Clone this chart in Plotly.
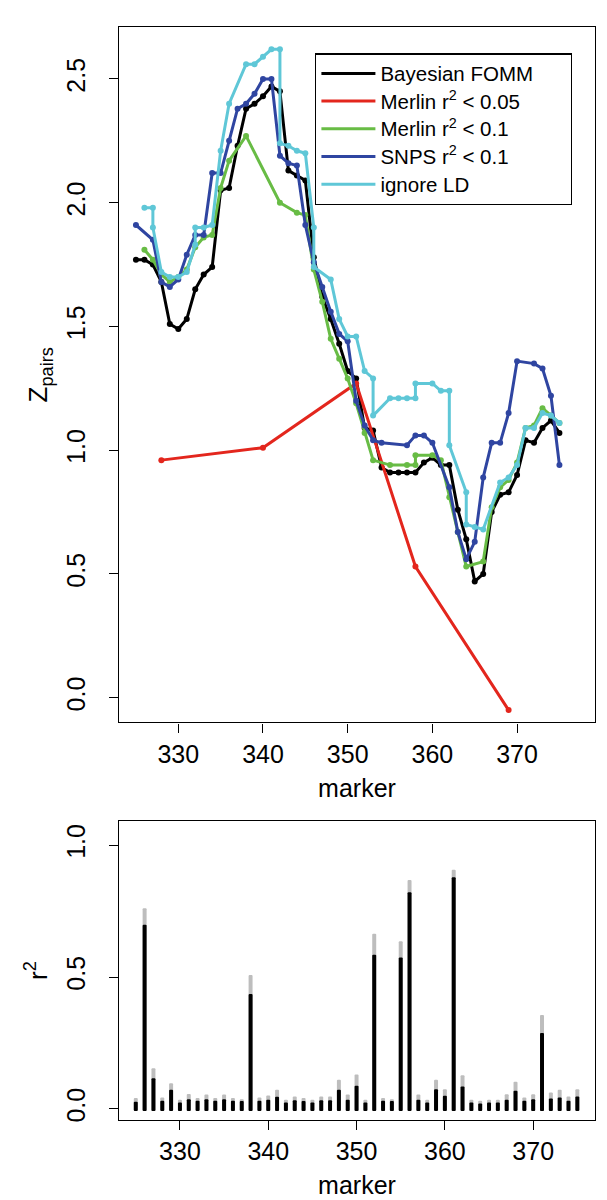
import plotly.graph_objects as go

# ---- data ----
markers = list(range(325, 376))

bayes_fomm = [1.77, 1.77, 1.75, 1.68, 1.51, 1.49, 1.53, 1.65, 1.71, 1.74,
              2.05, 2.06, 2.23, 2.38, 2.40, 2.43, 2.47, 2.45, 2.13, 2.11,
              2.09, 1.78, 1.62, 1.53, 1.43, 1.32, 1.29, 1.09, 1.08, 0.93,
              0.91, 0.91, 0.91, 0.91, 0.95, 0.97, 0.94, 0.94, 0.76, 0.64,
              0.47, 0.50, 0.75, 0.82, 0.83, 0.90, 1.04, 1.03, 1.09, 1.12, 1.07]

merlin05_x = [328, 340, 351, 358, 369]
merlin05_z = [0.96, 1.01, 1.27, 0.53, -0.05]

merlin10_x = [326, 327, 328, 329, 330, 331, 332, 333, 334, 335, 336, 338, 342,
              344, 345, 346, 347, 348, 349, 350, 351, 352, 353, 355, 357, 358,
              358, 360, 361, 362, 363, 364, 366, 367, 368, 369, 370, 371, 372,
              373, 374, 375]
merlin10_z = [1.81, 1.77, 1.71, 1.68, 1.70, 1.73, 1.82, 1.86, 1.87, 2.06, 2.17,
              2.27, 2.00, 1.96, 1.95, 1.73, 1.60, 1.45, 1.37, 1.29, 1.19, 1.07,
              0.96, 0.94, 0.94, 0.94, 0.98, 0.98, 0.96, 0.81, 0.67, 0.53, 0.55,
              0.77, 0.85, 0.88, 0.95, 1.09, 1.10, 1.17, 1.14, 1.11]

snps_x = [325, 327, 328, 329, 330, 331, 332, 333, 334, 335, 336, 337, 338, 339,
          340, 341, 342, 343, 344, 345, 346, 347, 348, 349, 350, 351, 352, 353,
          354, 357, 358, 359, 360, 362, 363, 364, 365, 366, 367, 368, 369, 370,
          372, 373, 374, 375]
snps_z = [1.91, 1.85, 1.68, 1.66, 1.69, 1.79, 1.87, 1.87, 2.12, 2.12, 2.25,
          2.38, 2.40, 2.44, 2.50, 2.50, 2.19, 2.16, 2.15, 1.91, 1.76, 1.66,
          1.56, 1.47, 1.44, 1.20, 1.10, 1.04, 1.03, 1.02, 1.06, 1.06, 1.03,
          0.85, 0.67, 0.56, 0.63, 0.89, 1.03, 1.03, 1.15, 1.36, 1.35, 1.33,
          1.22, 0.94]

ignore_x = [326, 327, 327, 328, 329, 330, 331, 332, 332, 333, 334, 335, 336,
            338, 339, 340, 341, 342, 342, 343, 344, 345, 346, 346, 348, 349,
            350, 351, 352, 353, 353, 355, 356, 357, 358, 358, 360, 361, 362,
            362, 364, 364, 365, 366, 368, 369, 370, 371, 372, 373, 374, 375]
ignore_z = [1.98, 1.98, 1.90, 1.72, 1.70, 1.70, 1.72, 1.83, 1.90, 1.90, 1.91,
            2.21, 2.40, 2.56, 2.56, 2.59, 2.62, 2.62, 2.24, 2.23, 2.21, 2.20,
            1.90, 1.74, 1.69, 1.53, 1.46, 1.46, 1.32, 1.29, 1.14, 1.21, 1.21,
            1.21, 1.21, 1.27, 1.27, 1.24, 1.24, 1.02, 0.83, 0.70, 0.69, 0.68,
            0.87, 0.89, 0.94, 1.09, 1.09, 1.15, 1.14, 1.11]

r2_black = [0.019, 0.69, 0.108, 0.023, 0.065, 0.016, 0.029, 0.023, 0.029, 0.023,
            0.029, 0.023, 0.022, 0.428, 0.023, 0.027, 0.038, 0.016, 0.025, 0.022,
            0.016, 0.025, 0.025, 0.065, 0.027, 0.080, 0.016, 0.577, 0.023, 0.022,
            0.566, 0.814, 0.027, 0.016, 0.067, 0.042, 0.871, 0.077, 0.016, 0.013,
            0.016, 0.016, 0.027, 0.061, 0.023, 0.029, 0.280, 0.032, 0.035, 0.023,
            0.039]
r2_gray = [0.033, 0.753, 0.146, 0.035, 0.089, 0.027, 0.049, 0.033, 0.047, 0.033,
           0.047, 0.033, 0.029, 0.500, 0.035, 0.043, 0.065, 0.027, 0.039, 0.033,
           0.027, 0.039, 0.039, 0.103, 0.047, 0.123, 0.027, 0.656, 0.033, 0.029,
           0.628, 0.860, 0.047, 0.027, 0.103, 0.067, 0.899, 0.120, 0.027, 0.023,
           0.027, 0.027, 0.048, 0.095, 0.035, 0.048, 0.348, 0.054, 0.065, 0.039,
           0.067]

x_ticks = [330, 340, 350, 360, 370]

FONT = "Liberation Sans, Arial, sans-serif"
CAP = 0.008  # round line-end look of R type="h"


def leg(txt):
    # larger glyphs than the legend's line spacing, like the R legend
    return '<span style="font-size:20.5px">' + txt + "</span>"


series = [
    ("Bayesian FOMM", markers, bayes_fomm, "#000000"),
    # trailing spaces widen the legend box like R's
    ("Merlin r<sup>2</sup> &lt; 0.05" + "&nbsp;" * 8, merlin05_x, merlin05_z, "#e3261d"),
    ("Merlin r<sup>2</sup> &lt; 0.1", merlin10_x, merlin10_z, "#68bc45"),
    ("SNPS r<sup>2</sup> &lt; 0.1", snps_x, snps_z, "#2f45a1"),
    ("ignore LD", ignore_x, ignore_z, "#5fc7d7"),
]

fig = go.Figure()

for name, xs, zs, col in series:
    fig.add_trace(go.Scatter(
        x=xs, y=zs, mode="lines+markers", showlegend=False,
        line=dict(color=col, width=3), marker=dict(color=col, size=6),
        xaxis="x", yaxis="y"))
# legend-only entries (lines only)
for name, xs, zs, col in series:
    fig.add_trace(go.Scatter(
        x=[None], y=[None], mode="lines", name=leg(name),
        line=dict(color=col, width=3), xaxis="x", yaxis="y"))

# bottom panel: gray then black
fig.add_trace(go.Bar(
    x=markers, y=[v + 2 * CAP for v in r2_gray], base=-CAP, width=0.45,
    marker=dict(color="#bdbdbd", cornerradius="50%", line=dict(width=0)),
    showlegend=False, xaxis="x2", yaxis="y2"))
fig.add_trace(go.Bar(
    x=markers, y=[v + 2 * CAP for v in r2_black], base=-CAP, width=0.45,
    marker=dict(color="#000000", cornerradius="50%", line=dict(width=0)),
    showlegend=False, xaxis="x2", yaxis="y2"))

axis_common = dict(showline=True, mirror=True, linecolor="black", linewidth=1.3,
                   ticks="outside", ticklen=9, tickwidth=1.3, tickcolor="black",
                   showgrid=False, zeroline=False,
                   tickfont=dict(family=FONT, size=25, color="black"))

fig.update_layout(
    width=607, height=1200,
    margin=dict(l=111, r=20, t=19, b=88, autoexpand=False),
    plot_bgcolor="white", paper_bgcolor="white",
    font=dict(family=FONT, color="black", size=25),
    barmode="overlay",
    xaxis=dict(domain=[0, 1], anchor="y", range=[323.0, 379.2], tickvals=x_ticks,
               title=dict(text="marker", standoff=12,
                          font=dict(family=FONT, size=25)),
               **axis_common),
    yaxis=dict(domain=[0.3637, 1], anchor="x", range=[-0.10, 2.71],
               tickvals=[0, 0.5, 1.0, 1.5, 2.0, 2.5], tickformat=".1f",
               tickangle=-90, ticklabelstandoff=14,
               title=dict(text="Z<sub>pairs</sub>", standoff=6,
                          font=dict(family=FONT, size=26)),
               **axis_common),
    xaxis2=dict(domain=[0, 1], anchor="y2", range=[323.1, 377.0], tickvals=x_ticks,
                title=dict(text="marker", standoff=12,
                           font=dict(family=FONT, size=25)),
                **axis_common),
    yaxis2=dict(domain=[0, 0.2736], anchor="x2", range=[-0.042, 1.092],
                tickvals=[0, 0.5, 1.0], tickformat=".1f",
                tickangle=-90, ticklabelstandoff=14,
                title=dict(text="r<sup>2</sup>", standoff=6,
                           font=dict(family=FONT, size=26)),
                **axis_common),
    legend=dict(x=0.412, y=0.976, xanchor="left", yanchor="top",
                bgcolor="white", bordercolor="black", borderwidth=1.3,
                font=dict(family=FONT, size=19, color="black"),
                itemwidth=54),
)

fig.write_html("out.html")
